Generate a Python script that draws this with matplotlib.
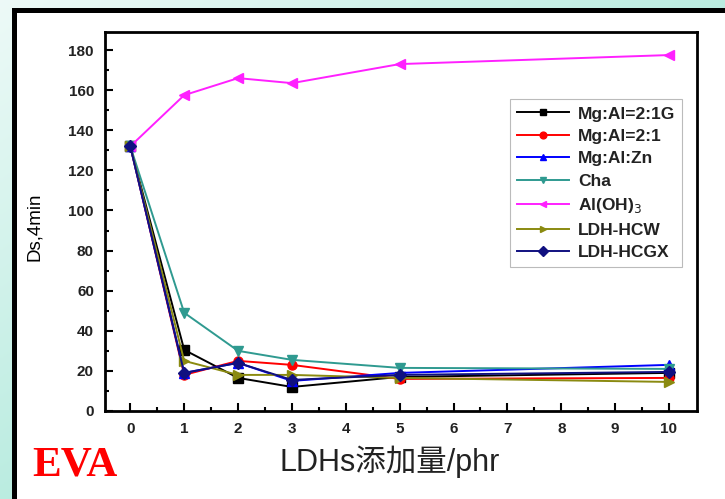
import numpy as np
import matplotlib.pyplot as plt
from matplotlib.patches import Rectangle

# data
x = [0, 1, 2, 3, 5, 10]
mg_al_21g = [132, 30.5, 16.5, 12, 17, 19]
mg_al_21 = [132, 18, 25, 23, 16, 16.5]
mg_al_zn = [132, 19, 24, 15, 19, 23]
cha = [132, 49, 30, 25.5, 21.5, 21]
al_oh3 = [132, 157.5, 166, 163.5, 173, 177.5]
ldh_hcw = [132, 25, 18, 18, 16.5, 14.5]
ldh_hcgx = [132, 19, 24, 15.5, 18, 19.5]

series = [
    ('Mg:Al=2:1G', mg_al_21g, 'black', 's'),
    ('Mg:Al=2:1', mg_al_21, 'red', 'o'),
    ('Mg:Al:Zn', mg_al_zn, 'blue', '^'),
    ('Cha', cha, '#2f9a90', 'v'),
    ('Al(OH)$_3$', al_oh3, '#ff20ff', '<'),
    ('LDH-HCW', ldh_hcw, '#8a8a10', '>'),
    ('LDH-HCGX', ldh_hcgx, '#101080', 'D'),
]

xticks = list(range(11))
yticks = list(range(0, 181, 20))

W, H = 725, 499
fig = plt.figure(figsize=(W / 100, H / 100), dpi=100)

# teal gradient background with a white panel framed in black
bg = fig.add_axes([0, 0, 1, 1])
gx, gy = np.meshgrid(np.linspace(0, 1, 200), np.linspace(0, 1, 200))
t = np.clip(0.6 * gx + 0.6 * gy, 0, 1)
c0 = np.array([0.93, 0.98, 0.97])
c1 = np.array([0.60, 0.89, 0.82])
img = c0[None, None, :] * (1 - t[..., None]) + c1[None, None, :] * t[..., None]
bg.imshow(img, extent=[0, W, H, 0], aspect='auto')
bg.add_patch(Rectangle((12, 8), W, H, facecolor='white', edgecolor='none'))
bg.add_patch(Rectangle((12, 8), W, 5, facecolor='black', edgecolor='none'))
bg.add_patch(Rectangle((12, 8), 5, H, facecolor='black', edgecolor='none'))
bg.set_xlim(0, W)
bg.set_ylim(H, 0)
bg.axis('off')

ax = fig.add_axes([105 / W, 1 - 411 / H, (697 - 105) / W, (411 - 32) / H])
for label, vals, color, marker in series:
    ax.plot(x, vals, color=color, marker=marker, markersize=6.5, linewidth=1.4, label=label)

ax.set_xlim(-0.47, 10.52)
ax.set_ylim(0, 189)
ax.set_xticks(xticks)
ax.set_yticks(yticks)
ax.set_xticks(np.arange(0.5, 10.5, 1), minor=True)
ax.set_yticks(range(10, 190, 20), minor=True)
ax.tick_params(which='major', direction='in', length=6, width=1.5, labelsize=11, pad=8)
ax.tick_params(which='minor', direction='in', length=3, width=1.5)
for lab in ax.get_xticklabels() + ax.get_yticklabels():
    lab.set_fontweight('bold')
    lab.set_family('Liberation Sans')
    lab.set_color('#222222')
for sp in ax.spines.values():
    sp.set_linewidth(2)

ax.set_ylabel('Ds,4min', fontsize=13.5, family='Liberation Sans')
ax.yaxis.set_label_coords(-0.105, 0.485)

leg = ax.legend(loc='upper right', bbox_to_anchor=(0.99, 0.845), handlelength=3.0,
                labelspacing=0.42, borderpad=0.4, handletextpad=0.5, fancybox=False,
                markerscale=0.75,
                prop={'family': 'Liberation Sans', 'weight': 'bold', 'size': 12.5})
leg.get_frame().set_edgecolor('#aaaaaa')
leg.get_frame().set_linewidth(0.8)
for txt in leg.get_texts():
    txt.set_color('#222222')

fig.text(390 / W, 1 - 462 / H, 'LDHs添加量/phr', fontsize=22, ha='center', va='center',
         family=['Liberation Sans', 'Noto Sans CJK SC', 'DejaVu Sans'], color='#222222')
fig.text(32 / W, 1 - 466 / H, 'EVA', fontsize=31, ha='left', va='center', color='red',
         family='Liberation Serif', fontweight='bold')

fig.savefig('out.png', dpi=100)
